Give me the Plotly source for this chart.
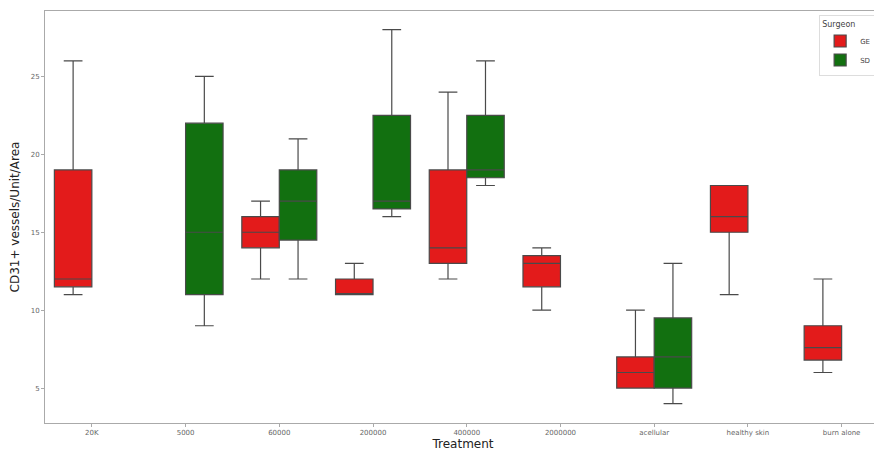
import plotly.graph_objects as go

categories = ["20K", "5000", "60000", "200000", "400000", "2000000",
              "acellular", "healthy skin", "burn alone"]

# GE surgeon
ge_x = ["20K", "60000", "200000", "400000", "2000000", "acellular", "healthy skin", "burn alone"]
ge_lower = [11, 12, 11, 12, 10, 5, 11, 6]
ge_q1 = [11.5, 14, 11, 13, 11.5, 5, 15, 6.8]
ge_median = [12, 15, 11, 14, 13, 6, 16, 7.6]
ge_q3 = [19, 16, 12, 19, 13.5, 7, 18, 9]
ge_upper = [26, 17, 13, 24, 14, 10, 18, 12]

# SD surgeon
sd_x = ["5000", "60000", "200000", "400000", "acellular"]
sd_lower = [9, 12, 16, 18, 4]
sd_q1 = [11, 14.5, 16.5, 18.5, 5]
sd_median = [15, 17, 17, 19, 7]
sd_q3 = [22, 19, 22.5, 22.5, 9.5]
sd_upper = [25, 21, 28, 26, 13]

y_ticks = [5, 10, 15, 20, 25]

fig = go.Figure()
line_col = "#4a4a4a"
fig.add_trace(go.Box(
    name="GE", x=ge_x, q1=ge_q1, median=ge_median, q3=ge_q3,
    lowerfence=ge_lower, upperfence=ge_upper,
    fillcolor="#e31b1b", line=dict(color=line_col, width=1.2),
    whiskerwidth=0.5, boxpoints=False, offsetgroup="GE"))
fig.add_trace(go.Box(
    name="SD", x=sd_x, q1=sd_q1, median=sd_median, q3=sd_q3,
    lowerfence=sd_lower, upperfence=sd_upper,
    fillcolor="#127010", line=dict(color=line_col, width=1.2),
    whiskerwidth=0.5, boxpoints=False, offsetgroup="SD"))

# page body adds an 8px offset; figure sized to fill the rest of the window
fig.update_layout(
    width=874, height=449,
    margin=dict(l=37, r=1, t=3, b=34, autoexpand=False),
    paper_bgcolor="white", plot_bgcolor="white",
    boxmode="group", boxgap=0.2, boxgroupgap=0,
    font=dict(family="DejaVu Sans", color="#333333"),
    legend=dict(title=dict(text="Surgeon", font=dict(size=8, color="#444")),
                font=dict(size=7, color="#444"),
                xref="paper", yref="paper",
                x=0.926, xanchor="left", y=0.99, yanchor="top",
                bordercolor="#dddddd", borderwidth=1, bgcolor="rgba(255,255,255,0.8)",
                tracegroupgap=0, itemwidth=30),
    showlegend=True,
)
fig.update_xaxes(
    type="category", categoryorder="array", categoryarray=categories,
    range=[-0.5, 8.42], automargin=False,
    title=dict(text="Treatment", font=dict(size=12, color="#222"), standoff=2),
    tickfont=dict(size=7, color="#666"),
    showline=True, linecolor="#aaaaaa", linewidth=1, mirror=True,
    ticks="outside", ticklen=3, tickcolor="#aaaaaa", showgrid=False, zeroline=False)
fig.update_yaxes(
    range=[2.76, 29.2], tickvals=y_ticks, automargin=False,
    title=dict(text="CD31+ vessels/Unit/Area", font=dict(size=12, color="#222"), standoff=8),
    tickfont=dict(size=7, color="#666"),
    showline=True, linecolor="#aaaaaa", linewidth=1, mirror=True,
    ticks="outside", ticklen=3, tickcolor="#aaaaaa", showgrid=False, zeroline=False)

fig.write_html("out.html")
